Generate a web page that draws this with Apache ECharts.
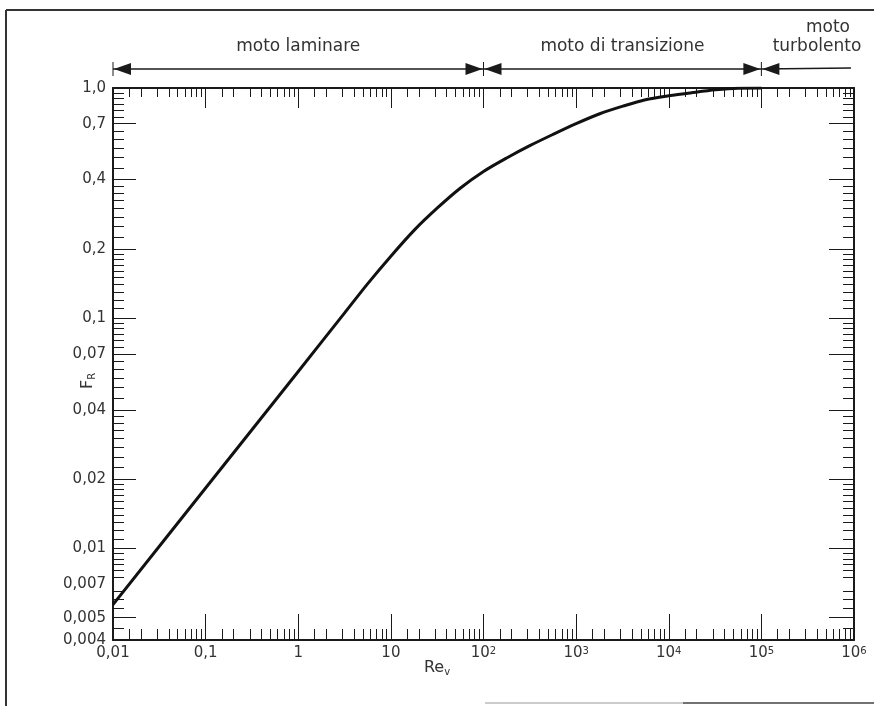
<!DOCTYPE html>
<html><head><meta charset="utf-8">
<script src="https://cdn.jsdelivr.net/npm/echarts@6/dist/echarts.min.js"></script>
<style>html,body{margin:0;padding:0;background:#fff}#c{width:874px;height:706px}</style>
</head><body><div id="c"></div>
<script>
// ---- data ----
const reValues = [0.01, 0.1, 1, 3.2, 5.6, 10, 18, 32, 56, 100, 180, 320, 560, 1000, 1800, 3200, 5600, 10000, 18000, 32000, 56000, 100000];
const frValues = [0.0057, 0.0183, 0.0587, 0.106, 0.141, 0.186, 0.242, 0.302, 0.367, 0.434, 0.498, 0.563, 0.628, 0.700, 0.773, 0.834, 0.889, 0.925, 0.955, 0.982, 0.998, 1.0];

const xTickValues = [0.01, 0.1, 1, 10, 100, 1000, 10000, 100000, 1000000];
const xTickLabels = ['0,01', '0,1', '1', '10', '10{sup|2}', '10{sup|3}', '10{sup|4}', '10{sup|5}', '10{sup|6}'];
const yTickValues = [0.004, 0.005, 0.007, 0.01, 0.02, 0.04, 0.07, 0.1, 0.2, 0.4, 0.7, 1.0];
const yTickLabels = ['0,004', '0,005', '0,007', '0,01', '0,02', '0,04', '0,07', '0,1', '0,2', '0,4', '0,7', '1,0'];
const yMajorTicks = [0.005, 0.01, 0.02, 0.04, 0.07, 0.1, 0.2, 0.4, 0.7];
const regimeBounds = [0.01, 100, 100000, 1000000];
const regimeNames = ['moto laminare', 'moto di transizione', 'moto', 'turbolento'];

const L = Math.log10;
const X_MIN = 0.01, X_MAX = 1e6, Y_MIN = 0.004, Y_MAX = 1.0;

const xMinorMult = [1.5, 2, 3, 4, 5, 6, 7, 8, 9];
const yMinorMult = [1.1, 1.2, 1.3, 1.4, 1.5, 1.6, 1.7, 1.8, 1.9, 2.25, 2.5, 2.75, 3, 3.25, 3.5, 3.75, 4.5, 5, 5.5, 6, 6.5, 7.5, 8, 8.5, 9, 9.5];

function minorX() {
  const out = [];
  for (let k = -2; k < 6; k++) for (const m of xMinorMult) out.push(k + L(m));
  return out;
}
function minorY() {
  const out = [];
  for (let k = -3; k < 0; k++) for (const m of yMinorMult) {
    const v = m * Math.pow(10, k);
    if (v > Y_MIN && v < Y_MAX) out.push(L(v));
  }
  return out;
}
function fmtX(v) { for (let i = 0; i < xTickValues.length; i++) if (Math.abs(L(xTickValues[i]) - v) < 1e-6) return xTickLabels[i]; return ''; }
function fmtY(v) { for (let i = 0; i < yTickValues.length; i++) if (Math.abs(L(yTickValues[i]) - v) < 1e-6) return yTickLabels[i]; return ''; }

const INK = '#1a1a1a';
const TXT = '#333';
const FONT = 'DejaVu Sans';

function tickAxis(pos, isX, vals, len, withLine, labels) {
  const ax = {
    type: 'value', gridIndex: 0, position: pos,
    min: isX ? L(X_MIN) : L(Y_MIN), max: isX ? L(X_MAX) : L(Y_MAX),
    splitLine: { show: false },
    axisLine: { show: !!withLine, onZero: false, lineStyle: { color: INK, width: 2 } },
    axisTick: { show: true, inside: true, length: len, customValues: vals, lineStyle: { color: INK, width: 1 } },
    axisLabel: { show: false }
  };
  if (labels) {
    ax.axisLabel = {
      show: true, customValues: labels.map(L), formatter: isX ? fmtX : fmtY,
      fontFamily: FONT, fontSize: 15, color: TXT, margin: isX ? 6 : 7,
      rich: { sup: { fontSize: 10, fontFamily: FONT, color: TXT, verticalAlign: 'top', lineHeight: 10 } }
    };
  }
  return ax;
}

const chart = echarts.init(document.getElementById('c'));
const option = {
  backgroundColor: '#fff',
  animation: false,
  grid: { left: 113, top: 88, right: 20, bottom: 66, containLabel: false },
  xAxis: [
    { type: 'log', logBase: 10, min: X_MIN, max: X_MAX, position: 'bottom',
      axisLine: { show: true, onZero: false, lineStyle: { color: INK, width: 2 } },
      axisTick: { show: false }, axisLabel: { show: false }, splitLine: { show: false } },
    tickAxis('bottom', true, xTickValues.map(L), 26, false, xTickValues),
    tickAxis('bottom', true, minorX(), 11, false),
    tickAxis('top', true, xTickValues.map(L), 20, true),
    tickAxis('top', true, minorX(), 9, false)
  ],
  yAxis: [
    { type: 'log', logBase: 10, min: Y_MIN, max: Y_MAX, position: 'left',
      axisLine: { show: true, onZero: false, lineStyle: { color: INK, width: 2 } },
      axisTick: { show: false }, axisLabel: { show: false }, splitLine: { show: false } },
    tickAxis('left', false, yMajorTicks.map(L), 23, false, yTickValues),
    tickAxis('left', false, minorY(), 11, false),
    tickAxis('right', false, yMajorTicks.map(L), 25, true),
    tickAxis('right', false, minorY(), 11, false)
  ],
  series: [{
    type: 'line', xAxisIndex: 0, yAxisIndex: 0, showSymbol: false, smooth: 0.3,
    lineStyle: { color: '#111', width: 3 },
    data: reValues.map((r, i) => [r, frValues[i]])
  }]
};
chart.setOption(option);

// ---- annotations tied to the x scale ----
const px = v => chart.convertToPixel({ xAxisIndex: 0 }, v);
const AY = 69;
const g = [];
function line(x1, y1, x2, y2, color, w) { g.push({ type: 'line', shape: { x1, y1, x2, y2 }, style: { stroke: color, lineWidth: w } }); }
function head(x, dir) { // dir -1: points left, +1: points right
  g.push({ type: 'polygon', shape: { points: [[x, AY], [x - dir * 17, AY - 6], [x - dir * 17, AY + 6]] }, style: { fill: INK } });
}
const b = regimeBounds.map(px);
line(b[0], AY, b[1], AY, INK, 1.5);
line(b[1], AY, b[2], AY, INK, 1.5);
line(b[2], AY, b[3] - 3, AY - 1, INK, 1.5);
[b[0], b[1], b[2]].forEach(x => line(x, AY - 7, x, AY + 7, INK, 1));
head(b[0] + 1, -1); head(b[1] - 1, 1); head(b[1] + 1, -1); head(b[2] - 1, 1); head(b[2] + 1, -1);
function txt(x, y, s) { g.push({ type: 'text', x, y, style: { text: s, fill: TXT, font: '17px "DejaVu Sans"', align: 'center', verticalAlign: 'middle' } }); }
txt((b[0] + b[1]) / 2, 47, regimeNames[0]);
txt((b[1] + b[2]) / 2, 47, regimeNames[1]);
txt(828, 28, regimeNames[2]);
txt(817, 47, regimeNames[3]);
// axis titles
g.push({ type: 'text', x: 437, y: 668, style: { text: 'Re{s|v}', fill: TXT, font: '16px "DejaVu Sans"', align: 'center', verticalAlign: 'middle',
  rich: { s: { fontSize: 10, fontFamily: FONT, fill: TXT, verticalAlign: 'bottom', padding: [8, 0, 0, 0] } } } });
g.push({ type: 'text', x: 88, y: 381, rotation: Math.PI / 2, style: { text: 'F{s|R}', fill: TXT, font: '16px "DejaVu Sans"', align: 'center', verticalAlign: 'middle',
  rich: { s: { fontSize: 10, fontFamily: FONT, fill: TXT, verticalAlign: 'bottom', padding: [8, 0, 0, 0] } } } });
// outer frame of the figure
line(6, 10, 874, 10, '#333', 2);
line(6, 10, 6, 706, '#333', 2);
line(485, 703, 874, 703, '#bbb', 1.5);
line(683, 703, 874, 703, '#555', 1.5);
chart.setOption({ graphic: g });
</script></body></html>
